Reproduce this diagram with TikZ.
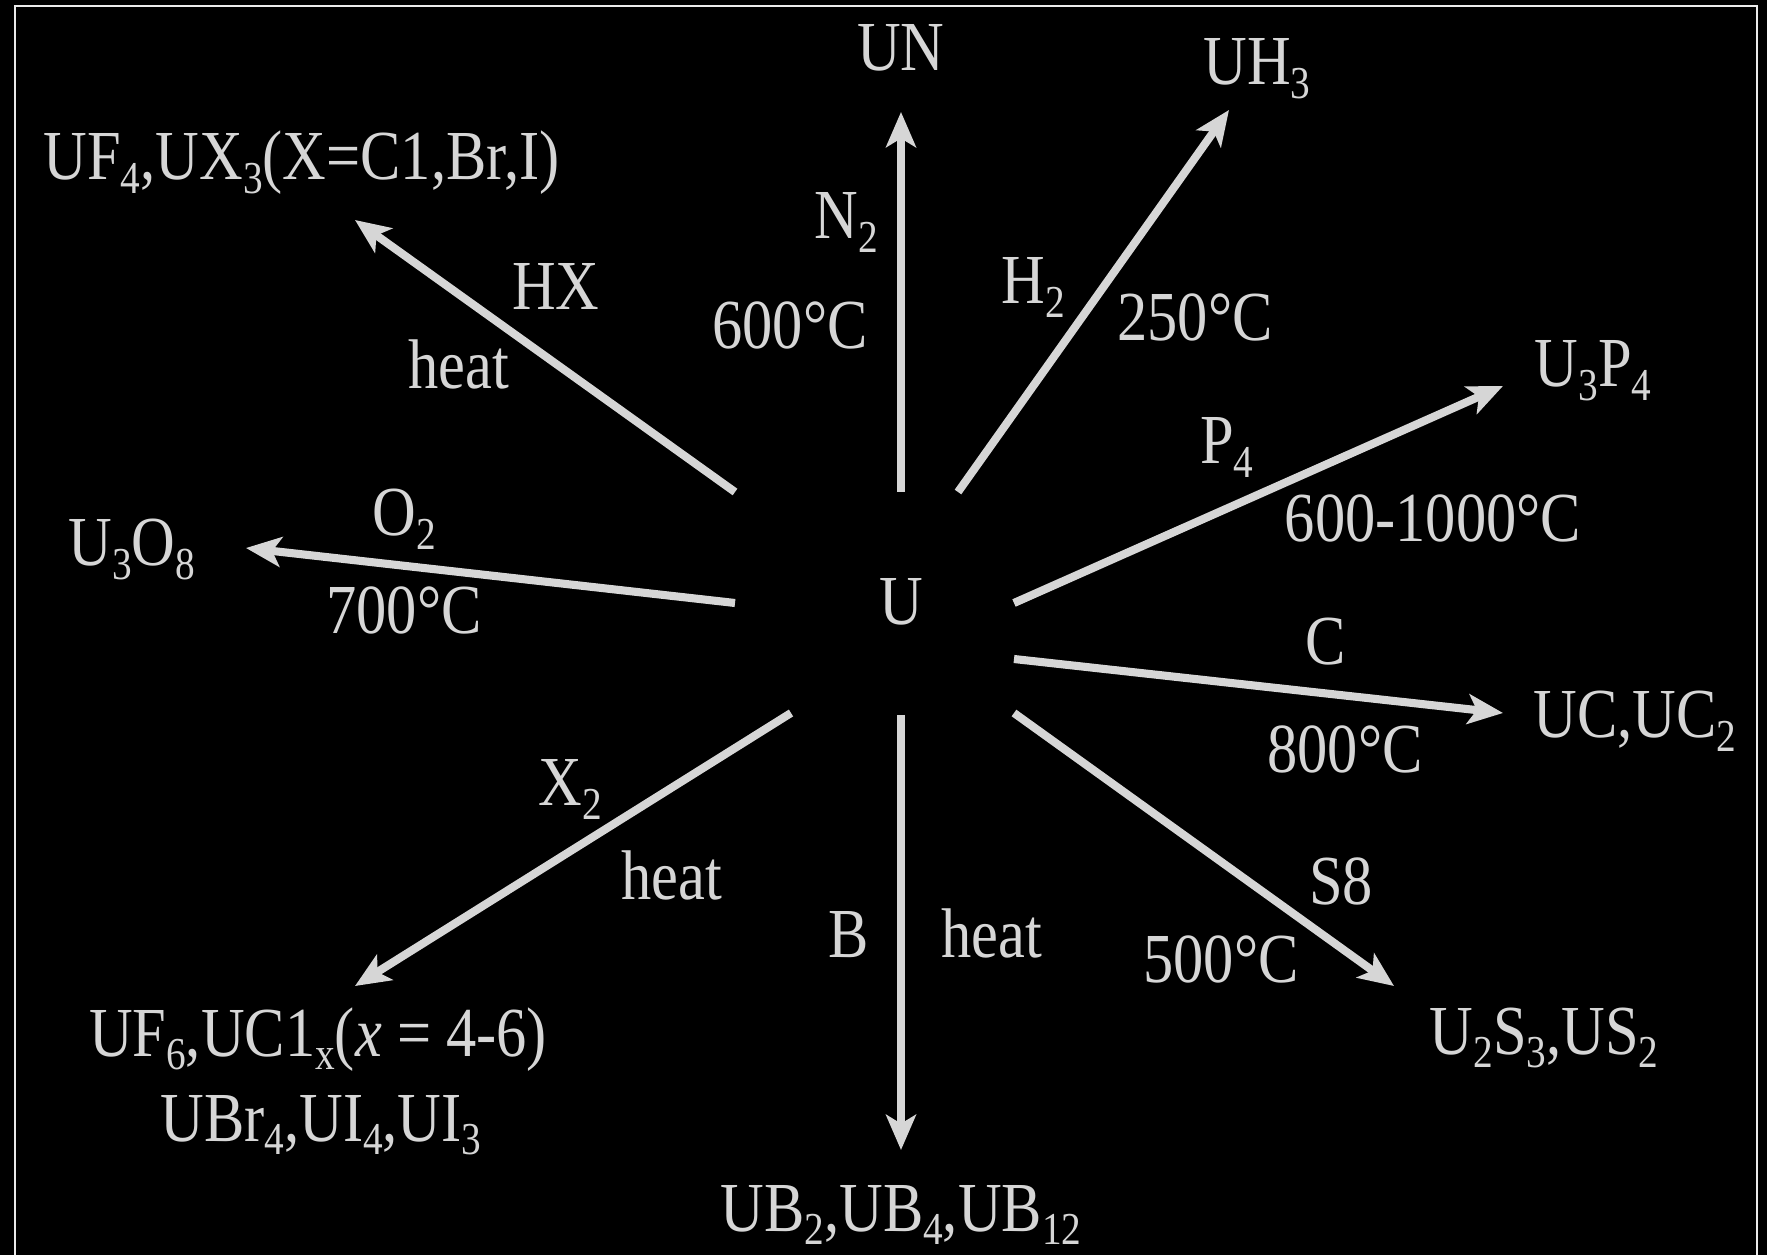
\documentclass[tikz,border=0pt]{standalone}
\usepackage{fontspec}
\setmainfont[FakeStretch=0.86]{Liberation Serif}
\usetikzlibrary{arrows.meta}
\definecolor{ChalkGray}{RGB}{214,214,214}
\definecolor{FrameGray}{RGB}{235,235,235}
\newcommand{\sbs}[1]{\raisebox{-3.8pt}{\fontsize{13}{14}\selectfont #1}}

\tikzset{
  chem/.style={text=ChalkGray,inner sep=0pt,anchor=base,font=\fontsize{20}{24}\selectfont},
  rxn/.style={->,draw=ChalkGray,line width=2.3pt}
}

\begin{document}
\begin{tikzpicture}[x=0.1mm,y=-0.1mm,>={Stealth[length=10pt,width=8.5pt,inset=2.5pt]}]
  \useasboundingbox (0,0) rectangle (1767,1255);
  \fill[black] (0,0) rectangle (1767,1255);
  \draw[FrameGray,line width=0.65pt] (15,6) rectangle (1757,1275);

  % centre and products
  \node[chem] (U) at (901,625) {U};
  \node[chem] (UN) at (901,71) {UN};
  \node[chem] (UH) at (1257,85) {UH\sbs{3}};
  \node[chem,anchor=base west] (UX) at (43,180) {UF\sbs{4},UX\sbs{3}(X=C1,Br,I)};
  \node[chem] (UP) at (1593,387) {U\sbs{3}P\sbs{4}};
  \node[chem] (UO) at (132,566) {U\sbs{3}O\sbs{8}};
  \node[chem] (UC) at (1635,738) {UC,UC\sbs{2}};
  \node[chem] (US) at (1544,1054) {U\sbs{2}S\sbs{3},US\sbs{2}};
  \node[chem] (UF) at (318,1056) {UF\sbs{6},UC1\sbs{x}(\textit{x} = 4-6)};
  \node[chem] (UI) at (321,1141) {UBr\sbs{4},UI\sbs{4},UI\sbs{3}};
  \node[chem] (UB) at (901,1231) {UB\sbs{2},UB\sbs{4},UB\sbs{12}};

  % reagents and conditions
  \node[chem] (nN) at (846,239) {N\sbs{2}};
  \node[chem] (tN) at (790,349) {600°C};
  \node[chem] (nHX) at (556,310) {HX};
  \node[chem] (tHX) at (459,389) {heat};
  \node[chem] (nH) at (1033,304) {H\sbs{2}};
  \node[chem] (tH) at (1195,341) {250°C};
  \node[chem] (nP) at (1227,464) {P\sbs{4}};
  \node[chem] (tP) at (1433,542) {600-1000°C};
  \node[chem] (nO) at (404,536) {O\sbs{2}};
  \node[chem] (tO) at (404,634) {700°C};
  \node[chem] (nC) at (1326,665) {C};
  \node[chem] (tC) at (1345,773) {800°C};
  \node[chem] (nX) at (570,806) {X\sbs{2}};
  \node[chem] (tX) at (672,899) {heat};
  \node[chem] (nB) at (849,958) {B};
  \node[chem] (tB) at (992,958) {heat};
  \node[chem] (nS) at (1341,905) {S8};
  \node[chem] (tS) at (1221,983) {500°C};

  % arrow ends
  \coordinate (aN) at (901,492);  \coordinate (bN) at (901,112);
  \coordinate (aH) at (958,492);  \coordinate (bH) at (1229,110);
  \coordinate (aP) at (1014,603); \coordinate (bP) at (1503,386);
  \coordinate (aC) at (1014,659); \coordinate (bC) at (1503,713);
  \coordinate (aS) at (1014,713); \coordinate (bS) at (1394,986);
  \coordinate (aB) at (901,715);  \coordinate (bB) at (901,1150);
  \coordinate (aX) at (791,713);  \coordinate (bX) at (355,986);
  \coordinate (aO) at (735,603);  \coordinate (bO) at (246,548);
  \coordinate (aHX) at (735,492); \coordinate (bHX) at (355,220);

  \foreach \r in {N,H,P,C,S,B,X,O,HX}
    \draw[rxn] (a\r) -- (b\r);
\end{tikzpicture}
\end{document}
